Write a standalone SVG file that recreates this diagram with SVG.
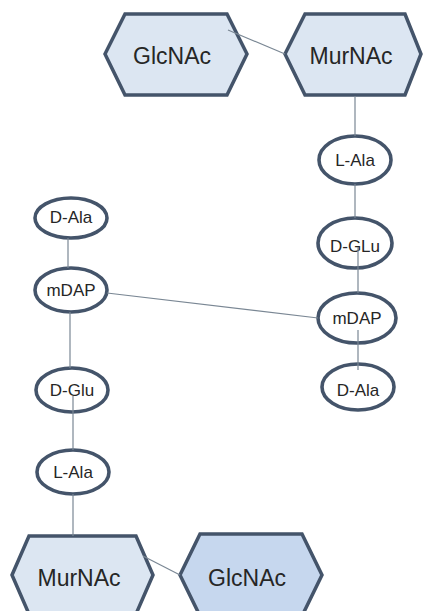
<svg xmlns="http://www.w3.org/2000/svg" width="425" height="611" viewBox="0 0 425 611">
<style>
.hex{fill:#dce6f2;stroke:#44546a;stroke-width:3.5;stroke-linejoin:miter}
.hex2{fill:#c6d7ee;stroke:#44546a;stroke-width:3.5}
.ell{fill:#ffffff;stroke:#44546a;stroke-width:3.6}
.lbl{font-family:"Liberation Sans",Arial,sans-serif;font-size:23px;fill:#262626;text-anchor:middle;dominant-baseline:central}
.sm{font-family:"Liberation Sans",Arial,sans-serif;font-size:17px;fill:#262626;text-anchor:middle;dominant-baseline:central}
.con{stroke:#7a8794;stroke-width:1.2;fill:none}
</style>
<rect width="425" height="611" fill="#ffffff"/>
<g id="glcnac-top"><polygon class="hex" points="105,54 125,14 227,14 247,54 227,95 125,95"/><text class="lbl" x="172" y="56">GlcNAc</text></g>
<g id="murnac-top"><polygon class="hex" points="285,54 305,14 405,14 421,54 405,95 305,95"/><text class="lbl" x="351" y="56">MurNAc</text></g>
<g id="lala-r"><ellipse class="ell" cx="355" cy="160" rx="36" ry="24"/><text class="sm" x="355" y="160">L-Ala</text></g>
<g id="dglu-r"><ellipse class="ell" cx="355" cy="243" rx="37" ry="25"/><text class="sm" x="355" y="246">D-GLu</text></g>
<g id="mdap-r"><ellipse class="ell" cx="357" cy="318" rx="39" ry="25"/><text class="sm" x="357" y="318">mDAP</text></g>
<g id="dala-r"><ellipse class="ell" cx="358" cy="387" rx="36" ry="23"/><text class="sm" x="358" y="390">D-Ala</text></g>
<g id="dala-l"><ellipse class="ell" cx="71" cy="218" rx="36" ry="20"/><text class="sm" x="71" y="217">D-Ala</text></g>
<g id="mdap-l"><ellipse class="ell" cx="71" cy="290" rx="36" ry="22"/><text class="sm" x="71" y="290">mDAP</text></g>
<g id="dglu-l"><ellipse class="ell" cx="72" cy="390" rx="36" ry="22"/><text class="sm" x="72" y="390">D-Glu</text></g>
<g id="lala-l"><ellipse class="ell" cx="73" cy="472" rx="36" ry="22"/><text class="sm" x="73" y="472">L-Ala</text></g>
<g id="murnac-bot"><polygon class="hex" points="12,575 29,536 136,536 153,575 136,614 29,614"/><text class="lbl" x="79" y="578">MurNAc</text></g>
<g id="glcnac-bot"><polygon class="hex2" points="180,575 200,534 302,534 322,575 302,616 200,616"/><text class="lbl" x="247" y="578">GlcNAc</text></g>
<g id="connectors">
<line class="con" x1="228" y1="30" x2="285" y2="54"/>
<line class="con" x1="355" y1="96" x2="355" y2="136"/>
<line class="con" x1="355" y1="184" x2="355" y2="218"/>
<line class="con" x1="358" y1="247" x2="358" y2="293"/>
<line class="con" x1="358" y1="330" x2="358" y2="370"/>
<line class="con" x1="107" y1="293" x2="318" y2="318"/>
<line class="con" x1="68" y1="238" x2="68" y2="268"/>
<line class="con" x1="70" y1="312" x2="70" y2="368"/>
<line class="con" x1="73" y1="396" x2="73" y2="450"/>
<line class="con" x1="73" y1="494" x2="73" y2="536"/>
<line class="con" x1="143" y1="556" x2="180" y2="575"/>
</g>
</svg>
